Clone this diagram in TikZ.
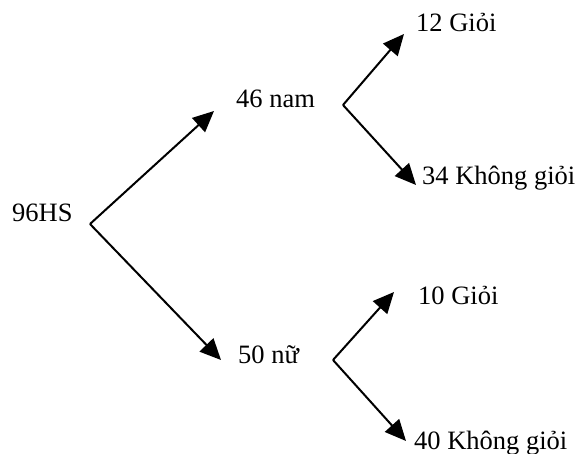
\documentclass[tikz,border=0pt]{standalone}
\usepackage{fontspec}
\setmainfont{Liberation Serif}
\usetikzlibrary{arrows.meta}
\begin{document}
\begin{tikzpicture}[x=1pt,y=-1pt,
  lbl/.style={anchor=base west,inner sep=0pt,font=\fontsize{26.5}{30}\selectfont},
  arr/.style={line width=2pt,-{Triangle[length=21pt,width=19pt]}}]
\useasboundingbox (0,0) rectangle (581,454);
\node[lbl] (hs) at (12,222) {96HS};
\node[lbl] (nam) at (236,108) {46 nam};
\node[lbl] (nu) at (238,363) {50 nữ};
\node[lbl] (g1) at (416,32) {12 Giỏi};
\node[lbl] (k1) at (422,185) {34 Không giỏi};
\node[lbl] (g2) at (418,305) {10 Giỏi};
\node[lbl] (k2) at (414,449) {40 Không giỏi};
\coordinate (f0) at (90,224);
\coordinate (t1) at (214,111);
\coordinate (t2) at (221,360);
\coordinate (f1) at (343,105);
\coordinate (t3) at (404,34);
\coordinate (t4) at (416,185);
\coordinate (f2) at (333,360);
\coordinate (t5) at (394,292);
\coordinate (t6) at (406,441);
\draw[arr] (f0) -- (t1);
\draw[arr] (f0) -- (t2);
\draw[arr] (f1) -- (t3);
\draw[arr] (f1) -- (t4);
\draw[arr] (f2) -- (t5);
\draw[arr] (f2) -- (t6);
\end{tikzpicture}
\end{document}
